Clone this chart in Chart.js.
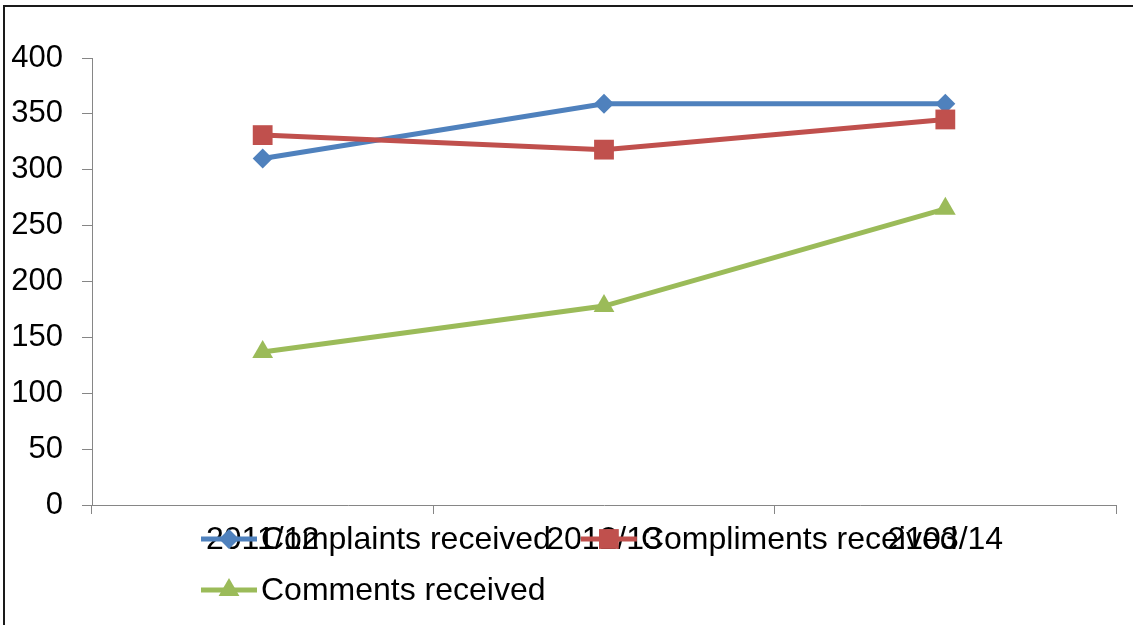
<!DOCTYPE html>
<html>
<head>
<meta charset="utf-8">
<script src="https://cdn.jsdelivr.net/npm/chart.js@4.4.1/dist/chart.umd.min.js"></script>
<style>
  html, body { margin: 0; padding: 0; background: #fff; overflow: hidden; }
  #wrap { position: relative; width: 1133px; height: 625px; overflow: hidden; }
  #frame { position: absolute; left: 3px; top: 5px; width: 2000px; height: 1000px;
           border-left: 2px solid #1a1a1a; border-top: 2px solid #1a1a1a; }
  #c { position: absolute; left: 0; top: 0; }
</style>
</head>
<body>
<div id="wrap">
  <div id="frame"></div>
  <canvas id="c" width="1133" height="625"></canvas>
</div>
<script>
// Yearly feedback counts
const years = ['2011/12', '2012/13', '2103/14'];
const complaints = [310, 359, 359];
const compliments = [331, 318, 345];
const comments = [137, 178, 265];

const yMin = 0;
const yMax = 400;
const yStep = 50;

const FONT = "'Liberation Sans', Arial, sans-serif";
const AXIS_GREY = '#868686';

// Draws a single marker shape for the legend
function drawMarker(ctx, style, r, x, y) {
  ctx.beginPath();
  if (style === 'rectRot') {
    ctx.moveTo(x, y - r); ctx.lineTo(x + r, y); ctx.lineTo(x, y + r); ctx.lineTo(x - r, y);
  } else if (style === 'rect') {
    const s = r * Math.SQRT1_2;
    ctx.rect(x - s, y - s, 2 * s, 2 * s);
  } else if (style === 'triangle') {
    for (let i = 0; i < 3; i++) {
      const a = i * 2 * Math.PI / 3;
      const px = x + Math.sin(a) * r, py = y - Math.cos(a) * r;
      if (i === 0) ctx.moveTo(px, py); else ctx.lineTo(px, py);
    }
  }
  ctx.closePath();
  ctx.fill();
}

// Legend laid out in rows under the plot, sharing the band of the category labels
const flowLegend = {
  id: 'flowLegend',
  afterDraw(chart) {
    const ctx = chart.ctx;
    const startX = 201, firstRowY = 539, rowGap = 51;
    const lineLen = 56, textGap = 4, itemGap = 30, maxRight = 1000;
    ctx.save();
    ctx.font = '32px ' + FONT;
    ctx.textBaseline = 'middle';
    ctx.textAlign = 'left';
    let x = startX, y = firstRowY;
    chart.data.datasets.forEach(ds => {
      const w = lineLen + textGap + ctx.measureText(ds.label).width;
      if (x !== startX && x + w > maxRight) { x = startX; y += rowGap; }
      ctx.strokeStyle = ds.borderColor;
      ctx.lineWidth = ds.borderWidth;
      ctx.beginPath();
      ctx.moveTo(x, y); ctx.lineTo(x + lineLen, y);
      ctx.stroke();
      ctx.fillStyle = ds.pointBackgroundColor;
      drawMarker(ctx, ds.pointStyle, ds.pointRadius, x + lineLen / 2, y);
      ctx.fillStyle = '#000';
      ctx.fillText(ds.label, x + lineLen + textGap, y + 1);
      x += w + itemGap;
    });
    ctx.restore();
  }
};

function series(label, data, color, style, radius, order) {
  return {
    label, data, order,
    borderColor: color,
    backgroundColor: color,
    borderWidth: 5,
    tension: 0,
    pointStyle: style,
    pointRadius: radius,
    pointHoverRadius: radius,
    pointBackgroundColor: color,
    pointBorderColor: color,
    pointBorderWidth: 0
  };
}

new Chart(document.getElementById('c'), {
  type: 'line',
  data: {
    labels: years,
    datasets: [
      series('Complaints received', complaints, '#4F81BD', 'rectRot', 10, 3),
      series('Compliments received', compliments, '#C0504D', 'rect', 14, 2),
      series('Comments received', comments, '#9BBB59', 'triangle', 12, 1)
    ]
  },
  options: {
    responsive: false,
    animation: false,
    events: [],
    layout: { padding: { left: 0, top: 58, right: 17, bottom: 0 } },
    plugins: { legend: { display: false }, tooltip: { enabled: false } },
    scales: {
      x: {
        offset: true,
        afterFit(scale) { scale.height = 120; },
        grid: { offset: true, drawOnChartArea: false, drawTicks: true, tickLength: 9, color: AXIS_GREY, lineWidth: 1 },
        border: { color: AXIS_GREY, width: 1 },
        ticks: { color: '#000', font: { family: FONT, size: 32 }, padding: 7, maxRotation: 0, autoSkip: false }
      },
      y: {
        min: yMin, max: yMax,
        afterFit(scale) { scale.width = 92; },
        grid: { drawOnChartArea: false, drawTicks: true, tickLength: 10, color: AXIS_GREY, lineWidth: 1 },
        border: { color: AXIS_GREY, width: 1 },
        ticks: { stepSize: yStep, color: '#000', font: { family: FONT, size: 31 }, padding: 19 }
      }
    }
  },
  plugins: [flowLegend]
});
</script>
</body>
</html>
